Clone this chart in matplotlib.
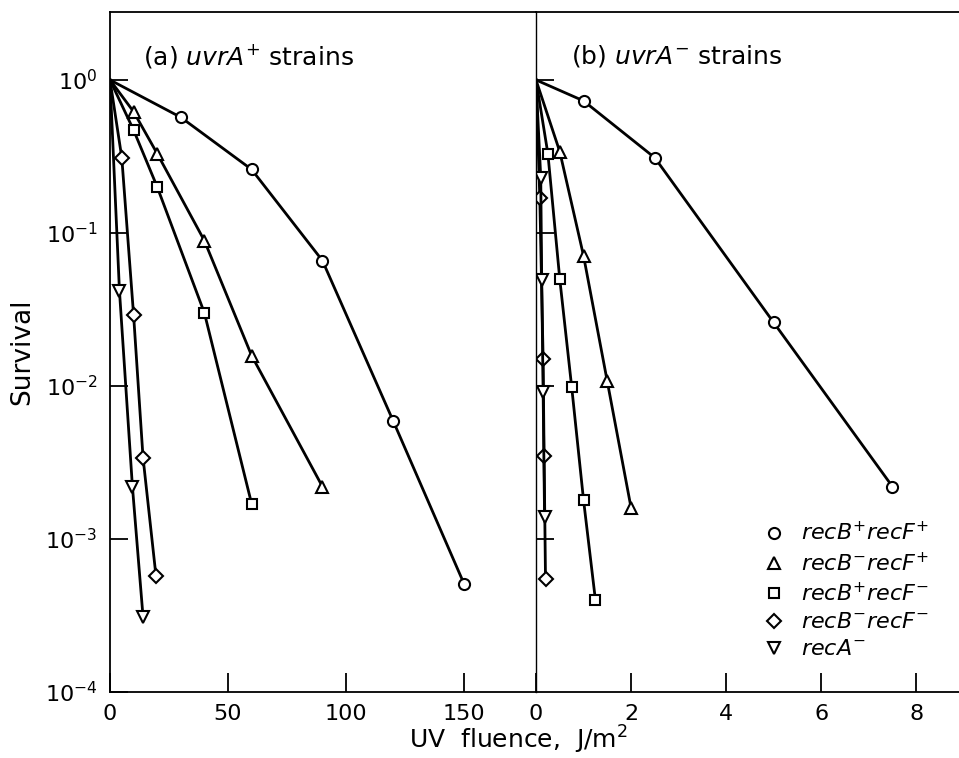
import matplotlib
matplotlib.use("Agg")
import matplotlib.pyplot as plt
from matplotlib.lines import Line2D

# survival data
# (a) uvrA+ strains, dose in J/m2
a_x_bf = [0, 30, 60, 90, 120, 150]
a_y_bf = [1, 0.57, 0.26, 0.066, 0.0059, 0.00051]
a_x_bmf = [0, 10, 20, 40, 60, 90]
a_y_bmf = [1, 0.62, 0.33, 0.089, 0.0158, 0.0022]
a_x_bfm = [0, 10, 20, 40, 60]
a_y_bfm = [1, 0.47, 0.20, 0.030, 0.0017]
a_x_bmfm = [0, 5, 10, 14, 19.5]
a_y_bmfm = [1, 0.31, 0.029, 0.0034, 0.00057]
a_x_reca = [0, 4, 9.5, 14]
a_y_reca = [1, 0.042, 0.0022, 0.00031]

# (b) uvrA- strains
b_x_bf = [0, 1.0, 2.5, 5.0, 7.5]
b_y_bf = [1, 0.73, 0.31, 0.026, 0.0022]
b_x_bmf = [0, 0.5, 1.0, 1.5, 2.0]
b_y_bmf = [1, 0.34, 0.071, 0.0107, 0.0016]
b_x_bfm = [0, 0.25, 0.5, 0.75, 1.0, 1.25]
b_y_bfm = [1, 0.33, 0.050, 0.0099, 0.0018, 0.00040]
b_x_bmfm = [0, 0.08, 0.15, 0.17, 0.2]
b_y_bmfm = [1, 0.17, 0.015, 0.0035, 0.00055]
b_x_reca = [0, 0.1, 0.12, 0.15, 0.18]
b_y_reca = [1, 0.23, 0.049, 0.0091, 0.0014]

etiquetas = [r'$\mathit{recB}^{+}\mathit{recF}^{+}$',
             r'$\mathit{recB}^{-}\mathit{recF}^{+}$',
             r'$\mathit{recB}^{+}\mathit{recF}^{-}$',
             r'$\mathit{recB}^{-}\mathit{recF}^{-}$',
             r'$\mathit{recA}^{-}$']
marcadores = ['o', '^', 's', 'D', 'v']
tamanos = [8, 8, 7.5, 7, 8]

fig = plt.figure(figsize=(9.59, 7.58), dpi=100)
ax1 = fig.add_axes([110/959, 66/758, 426/959, 680/758])
ax2 = fig.add_axes([536/959, 66/758, 423/959, 680/758])

datos_a = [(a_x_bf, a_y_bf), (a_x_bmf, a_y_bmf), (a_x_bfm, a_y_bfm),
           (a_x_bmfm, a_y_bmfm), (a_x_reca, a_y_reca)]
datos_b = [(b_x_bf, b_y_bf), (b_x_bmf, b_y_bmf), (b_x_bfm, b_y_bfm),
           (b_x_bmfm, b_y_bmfm), (b_x_reca, b_y_reca)]

for ax, datos in [(ax1, datos_a), (ax2, datos_b)]:
    for (x, y), m, ms in zip(datos, marcadores, tamanos):
        # the first point (0,1) has no marker
        ax.plot(x, y, color='black', linewidth=2)
        ax.plot(x[1:], y[1:], linestyle='none', marker=m, markersize=ms,
                markerfacecolor='white', markeredgecolor='black',
                markeredgewidth=1.5)
    ax.set_yscale('log')
    ax.set_ylim(1e-4, 2.78)
    ax.spines['right'].set_visible(False)
    ax.minorticks_off()
    ax.tick_params(direction='in', length=14, width=1.3, labelsize=16, pad=9)
    ax.yaxis.set_tick_params(length=13)
    for s in ax.spines.values():
        s.set_linewidth(1.3)

ax1.set_xlim(0, 180.5)
ax1.set_xticks([0, 50, 100, 150])
ax1.set_yticks([1, 1e-1, 1e-2, 1e-3, 1e-4])
ax1.set_yticklabels([r'$10^{0}$', r'$10^{-1}$', r'$10^{-2}$', r'$10^{-3}$', r'$10^{-4}$'])

ax2.set_xlim(0, 8.9)
ax2.set_xticks([0, 2, 4, 6, 8])
ax2.set_yticks([1, 1e-1, 1e-2, 1e-3])
ax2.set_yticklabels([])
ax2.spines['left'].set_linewidth(1.0)

ax1.text(0.078, 0.935, r'(a) $\mathit{uvrA}^{+}$ strains', transform=ax1.transAxes,
         fontsize=18, va='center')
ax2.text(0.083, 0.935, r'(b) $\mathit{uvrA}^{-}$ strains', transform=ax2.transAxes,
         fontsize=18, va='center')

fig.text(518/959, 1 - 740/758, 'UV  fluence,  J/m$^{2}$', fontsize=18,
         ha='center', va='center')
fig.text(22/959, 1 - 352/758, 'Survival', fontsize=19, rotation=90,
         ha='center', va='center')

manijas = [Line2D([], [], linestyle='none', marker=m, markersize=ms,
                  markerfacecolor='white', markeredgecolor='black',
                  markeredgewidth=1.5) for m, ms in zip(marcadores, tamanos)]
ax2.legend(manijas, etiquetas, loc='upper left',
           bbox_to_anchor=(752/959, 1 - 510/758), bbox_transform=fig.transFigure,
           frameon=False, fontsize=16, handlelength=1.0, handletextpad=0.7,
           labelspacing=0.32, borderpad=0)

fig.savefig('out.png', dpi=100)
